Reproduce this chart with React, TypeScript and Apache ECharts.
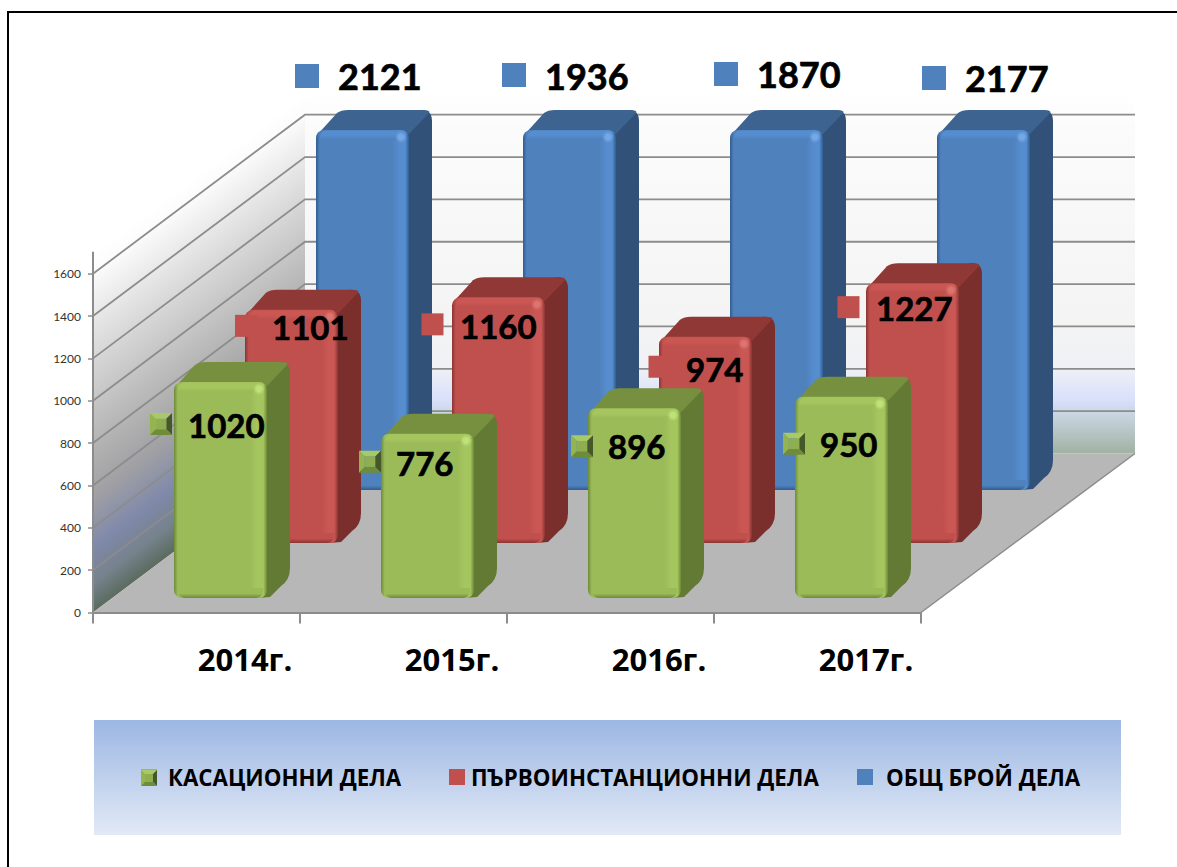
import React, { useEffect, useRef } from "react";
import * as echarts from "echarts";

const categories = ["2014г.", "2015г.", "2016г.", "2017г."];
const cassationCases = [1020, 776, 896, 950];
const firstInstanceCases = [1101, 1160, 974, 1227];
const totalCases = [2121, 1936, 1870, 2177];
const yTicks = [0, 200, 400, 600, 800, 1000, 1200, 1400, 1600];
const AXIS_MAX = 1700;

const FONT = "Lato, 'Open Sans', sans-serif";
const CYR = "'Open Sans', 'Noto Sans', sans-serif";
const LinearGradient: any = (echarts.graphic as any).LinearGradient;
const RadialGradient: any = (echarts.graphic as any).RadialGradient;

const DEPTH_X = 212;
const DEPTH_Y = 159;
const BAR_W = 93;
const SIDE_X = 23;
const SIDE_Y = 20;

const GREEN = { front: "#9bbb59", light: "#a5c65f", dark: "#6d8a38", top: "#76903f", side: "#637a35", hi: "#bfe278", hiT: "rgba(191,226,120,0)" };
const RED = { front: "#c0504d", light: "#ca5753", dark: "#8a3533", top: "#8f3836", side: "#7a2f2d", hi: "#dc7470", hiT: "rgba(220,116,112,0)" };
const BLUE = { front: "#4f81bd", light: "#568dcf", dark: "#2f5d92", top: "#3d6491", side: "#325178", hi: "#74a8e6", hiT: "rgba(116,168,230,0)" };

function bevel(cx: number, cy: number, s: number, z2: number) {
  const h = s / 2;
  const i = s / 4.2;
  const o = (pts: number[][], fill: string) => ({ type: "polygon", silent: true, z2, z: z2, shape: { points: pts }, style: { fill } });
  const [x0, x1, y0, y1, a0, a1, b0, b1] = [cx - h, cx + h, cy - h, cy + h, cx - i, cx + i, cy - i, cy + i];
  return [
    o([[x0, y0], [x1, y0], [a1, b0], [a0, b0]], "#a8c966"),
    o([[x0, y0], [a0, b0], [a0, b1], [x0, y1]], "#94b450"),
    o([[x1, y0], [x1, y1], [a1, b1], [a1, b0]], "#46572a"),
    o([[x0, y1], [a0, b1], [a1, b1], [x1, y1]], "#6f8c38"),
    o([[a0, b0], [a1, b0], [a1, b1], [a0, b1]], "#8fae50"),
  ];
}

type Offsets = { mx: number[]; my: number[]; tx: number[]; ty: number[] };

function barRenderer(
  values: number[],
  c: typeof GREEN,
  shiftX: number,
  shiftY: number,
  off: Offsets,
  markerSize: number,
  fontSize: number,
  bevelled: boolean
) {
  return (_params: any, api: any) => {
    const i = api.value(0);
    const v = api.value(1);
    const base = api.coord([i, 0]);
    const topPt = api.coord([i, Math.min(v, AXIS_MAX)]);
    const x = base[0] + shiftX - BAR_W / 2;
    const yb = base[1] + shiftY;
    const y = topPt[1] + shiftY;
    const w = BAR_W;
    const h = yb - y;
    const r = 8;
    const xr = x + w;
    const sx = xr + SIDE_X;
    const st = y - SIDE_Y;
    const side = `M${xr - 9} ${y + 1} L${sx - 12} ${st} Q${sx} ${st - 1} ${sx} ${st + 11} L${sx} ${yb - SIDE_Y - 10} Q${sx} ${yb - SIDE_Y + 2} ${sx - 9} ${yb - SIDE_Y + 8} L${xr + 3} ${yb - 1} L${xr - 9} ${yb} Z`;
    const top = `M${x + 2} ${y + 4} L${x + 21} ${st + 3} Q${x + 25} ${st} ${x + 32} ${st} L${sx - 10} ${st} Q${sx - 1} ${st} ${sx - 3} ${st + 3} L${xr} ${y + 4} Z`;
    const hGrad = new LinearGradient(0, 0, 1, 0, [
      { offset: 0, color: c.dark },
      { offset: 0.04, color: c.front },
      { offset: 0.82, color: c.front },
      { offset: 0.9, color: c.light },
      { offset: 0.96, color: c.light },
      { offset: 1, color: c.dark },
    ]);
    const topGrad = new LinearGradient(0, 0, 0, 1, [
      { offset: 0, color: c.light },
      { offset: 0.5, color: c.light },
      { offset: 1, color: c.front },
    ]);
    const botGrad = new LinearGradient(0, 0, 0, 1, [
      { offset: 0, color: c.front },
      { offset: 0.55, color: c.front },
      { offset: 1, color: c.dark },
    ]);
    const hiGrad = new RadialGradient(0.5, 0.5, 0.5, [
      { offset: 0, color: c.hi },
      { offset: 0.4, color: c.hi },
      { offset: 1, color: c.hiT },
    ]);
    const children: any[] = [
      { type: "path", silent: true, shape: { pathData: side }, style: { fill: c.side } },
      { type: "path", silent: true, shape: { pathData: top }, style: { fill: c.top } },
      {
        type: "rect",
        silent: true,
        shape: { x, y, width: w, height: h, r },
        style: { fill: hGrad },
      },
      { type: "rect", silent: true, shape: { x: x + 4, y: y + 0.5, width: w - 8, height: 9, r: [7, 7, 0, 0] }, style: { fill: topGrad } },
      { type: "rect", silent: true, shape: { x: x + 4, y: yb - 10, width: w - 8, height: 10, r: [0, 0, 7, 7] }, style: { fill: botGrad } },
      { type: "circle", silent: true, shape: { cx: xr - 8, cy: y + 7, r: 6 }, style: { fill: hiGrad } },
    ];
    const mx = x + off.mx[i];
    const my = y + off.my[i];
    if (bevelled) {
      bevel(mx, my, markerSize, 50).forEach((e) => children.push(e));
    } else {
      children.push({
        type: "rect",
        silent: true,
        z2: 50,
        shape: { x: mx - markerSize / 2, y: my - markerSize / 2, width: markerSize, height: markerSize },
        style: { fill: c.front },
      });
    }
    children.push({
      type: "text",
      silent: true,
      z2: 60,
      x: x + off.tx[i],
      y: y + off.ty[i] - 1,
      style: {
        text: String(values[i]),
        fontFamily: FONT,
        fontWeight: "bold",
        fontSize,
        fill: "#000",
        stroke: "#000",
        lineWidth: 0.7,
        align: "left",
        verticalAlign: "middle",
      },
    });
    return { type: "group", children };
  };
}

function wallsRenderer(params: any, api: any) {
  const v = api.value(1);
  const cs = params.coordSys;
  const x0 = cs.x;
  const x1 = cs.x + cs.width;
  const y = api.coord([0, v])[1];
  const y0 = api.coord([0, 0])[1];
  const yTop = api.coord([0, AXIS_MAX])[1];
  const bx0 = x0 + DEPTH_X;
  const bx1 = x1 + DEPTH_X + 2;
  const children: any[] = [];
  if (v === 0) {
    const nx = 0.6;
    const ny = 0.8;
    const len = (y0 - yTop) * ny;
    const leftGrad = new LinearGradient(
      x0,
      yTop,
      x0 + nx * len,
      yTop + ny * len,
      [
        { offset: 0, color: "#ffffff" },
        { offset: 0.05, color: "#fcfcfc" },
        { offset: 0.3, color: "#d6d6d6" },
        { offset: 0.55, color: "#b2b2b2" },
        { offset: 0.68, color: "#a0a0a4" },
        { offset: 0.82, color: "#7f89aa" },
        { offset: 0.92, color: "#76828c" },
        { offset: 1, color: "#5a6b5e" },
      ],
      true
    );
    const backGrad = new LinearGradient(
      0,
      yTop - DEPTH_Y,
      0,
      y0 - DEPTH_Y,
      [
        { offset: 0, color: "#ffffff" },
        { offset: 0.1, color: "#fbfbfb" },
        { offset: 0.62, color: "#f4f4f4" },
        { offset: 0.76, color: "#f0f1f5" },
        { offset: 0.85, color: "#d8e0fb" },
        { offset: 0.88, color: "#ced8e8" },
        { offset: 1, color: "#9fb2a2" },
      ],
      true
    );
    children.push(
      {
        type: "polygon",
        silent: true,
        shape: { points: [[x0, yTop], [bx0, yTop - DEPTH_Y], [bx0, y0 - DEPTH_Y], [x0, y0]] },
        style: { fill: leftGrad },
      },
      {
        type: "polygon",
        silent: true,
        shape: { points: [[bx0, yTop - DEPTH_Y], [bx1, yTop - DEPTH_Y], [bx1, y0 - DEPTH_Y], [bx0, y0 - DEPTH_Y]] },
        style: { fill: backGrad },
      },
      {
        type: "polygon",
        silent: true,
        shape: { points: [[x0, y0], [bx0, y0 - DEPTH_Y], [bx1, y0 - DEPTH_Y], [x1, y0]] },
        style: { fill: "#b7b7b7" },
      },
      {
        type: "line",
        silent: true,
        shape: { x1, y1: y0, x2: bx1, y2: y0 - DEPTH_Y },
        style: { stroke: "#8c8c8c", lineWidth: 1.5 },
      }
    );
  } else {
    children.push({
      type: "polyline",
      silent: true,
      shape: { points: [[x0, y], [bx0, y - DEPTH_Y], [bx1, y - DEPTH_Y]] },
      style: { fill: "none", stroke: "#8c8c8c", lineWidth: 1.8 },
    });
  }
  return { type: "group", children };
}

const greenOffsets: Offsets = {
  mx: [-13, -11, -6, -1],
  my: [42, 28, 38, 47],
  tx: [14, 15, 20, 25],
  ty: [44, 30, 39, 48],
};
const redOffsets: Offsets = {
  mx: [1, -19.5, 0.5, -17.5],
  my: [16, 27, 30, 24],
  tx: [27, 8, 27, 10],
  ty: [18, 30, 33, 26],
};
const blueOffsets: Offsets = {
  mx: [-9, -9, -4, -3],
  my: [-54, -55, -56, -52],
  tx: [22, 22, 27, 28],
  ty: [-53, -53, -55, -51],
};

const legendText = { fontFamily: CYR, fontWeight: "bold" as const, fontSize: 22.3, color: "#000" };

function legendEntry(name: string, left: number, color: string, gap: number) {
  return {
    left,
    top: 766,
    padding: 0,
    itemWidth: 16,
    itemHeight: 16,
    selectedMode: false,
    icon: "rect",
    data: [{ name, itemStyle: { color } }],
    textStyle: { ...legendText, padding: [0, 0, 0, gap] },
  };
}

export default function App() {
  const ref = useRef<HTMLDivElement>(null);
  useEffect(() => {
    document.body.style.margin = "0";
    const chart = echarts.init(ref.current!, null, { renderer: "svg" });
    const bar = (name: string, values: number[], color: string, render: any) => ({
      type: "custom",
      name,
      coordinateSystem: "cartesian2d",
      clip: false,
      silent: true,
      itemStyle: { color },
      encode: { x: 0, y: 1 },
      data: values.map((v, i) => [i, v]),
      renderItem: render,
    });
    chart.setOption({
      animation: false,
      backgroundColor: "#fff",
      grid: { left: 93, top: 252.5, width: 828, height: 360 },
      legend: [
        legendEntry("КАСАЦИОННИ ДЕЛА", 141, GREEN.front, 6),
        legendEntry("ПЪРВОИНСТАНЦИОННИ ДЕЛА", 449, RED.front, 1),
        legendEntry("ОБЩ БРОЙ ДЕЛА", 857, BLUE.front, 8),
      ],
      graphic: [
        { type: "rect", z: -10, silent: true, shape: { x: 94, y: 720, width: 1027, height: 115 },
          style: { fill: new LinearGradient(0, 0, 0, 1, [{ offset: 0, color: "#9cb7e3" }, { offset: 1, color: "#e2e9f6" }]) } },
        { type: "polyline", silent: true, z: 10, shape: { points: [[8, 867], [8, 12], [1177, 12]] },
          style: { fill: "none", stroke: "#000", lineWidth: 2 } },
        ...bevel(149, 778, 16, 20).map((e) => ({ ...e, z: 20 })),
      ],
      xAxis: {
        type: "category",
        data: categories,
        boundaryGap: true,
        axisLine: { show: true, lineStyle: { color: "#8c8c8c", width: 2 } },
        axisTick: { show: true, length: 11, alignWithLabel: false, lineStyle: { color: "#8c8c8c", width: 2 } },
        axisLabel: {
          margin: 31,
          fontFamily: CYR,
          fontWeight: "bold",
          fontSize: 31,
          color: "#000",
          padding: [0, 0, 0, 97],
          interval: 0,
        },
      },
      yAxis: {
        type: "value",
        min: 0,
        max: AXIS_MAX,
        interval: 200,
        splitLine: { show: false },
        axisLine: { show: true, lineStyle: { color: "#8c8c8c", width: 2 } },
        axisTick: { show: true, length: 5, customValues: yTicks, lineStyle: { color: "#8c8c8c", width: 1.5 } },
        axisLabel: { margin: 12, fontFamily: FONT, fontSize: 12, color: "#333", customValues: yTicks, formatter: (v: number) => String(v) },
      },
      series: [
        {
          type: "custom",
          name: "walls",
          coordinateSystem: "cartesian2d",
          clip: false,
          silent: true,
          z: 0,
          encode: { x: 0, y: 1 },
          data: yTicks.map((v) => [0, v]),
          renderItem: wallsRenderer,
        },
        bar("ОБЩ БРОЙ ДЕЛА", totalCases, BLUE.front, barRenderer(totalCases, BLUE, 166, -122.5, blueOffsets, 24, 36, false)),
        bar("ПЪРВОИНСТАНЦИОННИ ДЕЛА", firstInstanceCases, RED.front, barRenderer(firstInstanceCases, RED, 95, -69.5, redOffsets, 22, 33, false)),
        bar("КАСАЦИОННИ ДЕЛА", cassationCases, GREEN.front, barRenderer(cassationCases, GREEN, 24, -14.5, greenOffsets, 22, 33, true)),
      ],
    });
    return () => chart.dispose();
  }, []);
  return <div ref={ref} style={{ position: "absolute", left: 0, top: 0, width: 1177, height: 867 }} />;
}
